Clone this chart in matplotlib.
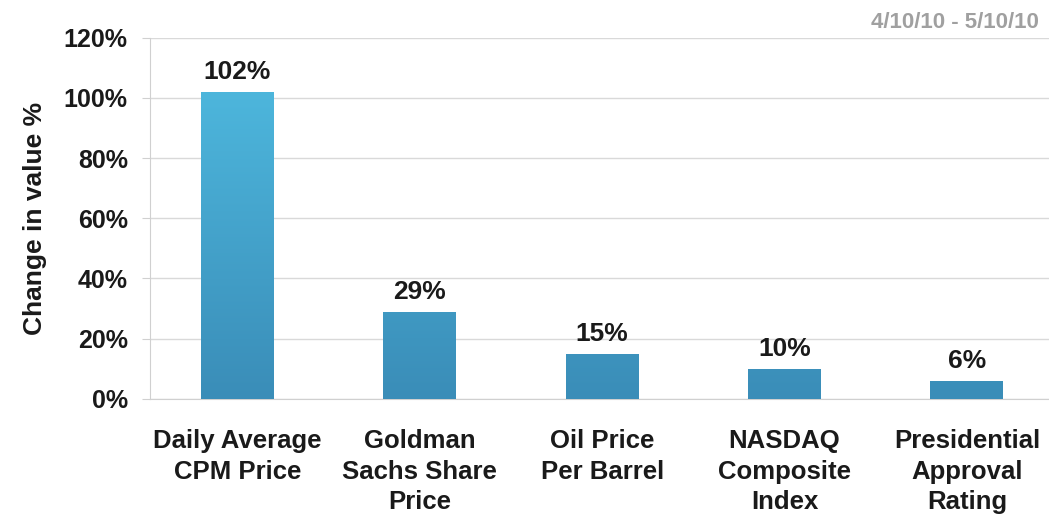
import numpy as np
import matplotlib.pyplot as plt
from matplotlib.colors import LinearSegmentedColormap

plt.rcParams['font.family'] = ['Liberation Sans', 'DejaVu Sans']
plt.rcParams['font.weight'] = 'bold'

categories = ['Daily Average\nCPM Price', 'Goldman\nSachs Share\nPrice', 'Oil Price\nPer Barrel',
              'NASDAQ\nComposite\nIndex', 'Presidential\nApproval\nRating']
values = [102, 29, 15, 10, 6]
labels = ['102%', '29%', '15%', '10%', '6%']
yticks = [0, 20, 40, 60, 80, 100, 120]

fig = plt.figure(figsize=(10.49, 5.16), dpi=100)
ax = fig.add_axes([0.143, 0.227, 0.857, 0.700])

x = np.arange(len(categories))
bars = ax.bar(x, values, width=0.4, color='none', zorder=3)
cmap = LinearSegmentedColormap.from_list('g', ['#3a8db8', '#4db6dc'])
grad = np.linspace(0, 1, 256).reshape(-1, 1)
for b in bars:
    x0 = b.get_x()
    w = b.get_width()
    im = ax.imshow(grad, cmap=cmap, origin='lower', aspect='auto',
                   extent=[x0, x0 + w, 0, 102], zorder=3)
    im.set_clip_path(b)

for xi, v, lab in zip(x, values, labels):
    ax.text(xi, v + 2.5, lab, ha='center', va='bottom', fontsize=19, fontweight='bold', color='#1a1a1a')

ax.set_xlim(-0.48, 4.45)
ax.set_ylim(0, 120)
ax.set_yticks(yticks)
ax.set_yticklabels([f'{t}%' for t in yticks], fontsize=18, fontweight='bold', color='#1a1a1a')
ax.set_xticks(x)
ax.set_xticklabels(categories, fontsize=18.5, fontweight='bold', color='#1a1a1a', linespacing=1.33)
ax.tick_params(axis='x', length=0, pad=22)
ax.tick_params(axis='y', length=6, color='#d0d0d0', pad=10)
ax.grid(axis='y', color='#d9d9d9', linewidth=1, zorder=0)
for s in ['top', 'right']:
    ax.spines[s].set_visible(False)
ax.spines['left'].set_color('#d0d0d0')
ax.spines['bottom'].set_color('#d0d0d0')
ax.set_ylabel('Change in value %', fontsize=19, fontweight='bold', color='#1a1a1a', labelpad=12)

fig.text(0.99, 0.977, '4/10/10 - 5/10/10', ha='right', va='top', fontsize=16,
         fontweight='bold', color='#a0a0a0')

fig.savefig('out.png', dpi=100)
